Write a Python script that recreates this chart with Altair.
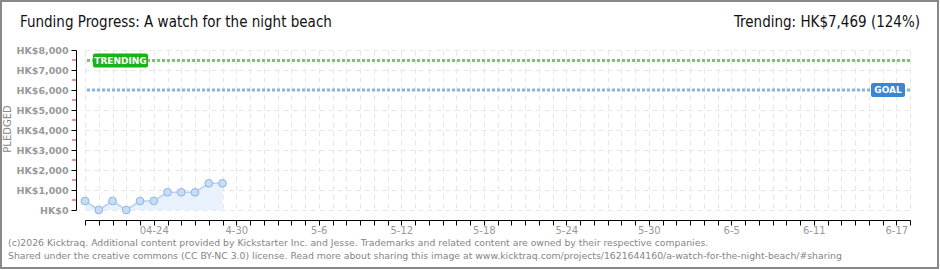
import altair as alt
import pandas as pd

# ---- data ----
dates = ["2026-04-19", "2026-04-20", "2026-04-21", "2026-04-22", "2026-04-23",
         "2026-04-24", "2026-04-25", "2026-04-26", "2026-04-27", "2026-04-28",
         "2026-04-29"]
pledged = [450, 0, 450, 0, 450, 450, 885, 885, 885, 1335, 1335]
goal = 6000
trending = 7469
y_ticks = [0, 1000, 2000, 3000, 4000, 5000, 6000, 7000, 8000]
minor_ticks = [500, 1500, 2500, 3500, 4500, 5500, 6500, 7500]
x_start = "2026-04-19"
x_end = "2026-06-18"
first_label = "2026-04-24"

title_text = "Funding Progress: A watch for the night beach"
trend_text = "Trending:  HK$7,469 (124%)"
footer1 = ("(c)2026 Kicktraq. Additional content provided by Kickstarter Inc. and Jesse. "
           "Trademarks and related content are owned by their respective companies.")
footer2 = ("Shared under the creative commons (CC BY-NC 3.0) license. Read more about sharing "
           "this image at www.kicktraq.com/projects/1621644160/a-watch-for-the-night-beach/#sharing")

df = pd.DataFrame({"date": dates, "pledged": pledged})

day_ms = 86400000
t_start = int(pd.Timestamp(x_start, tz="UTC").timestamp() * 1000)
t_end = int(pd.Timestamp(x_end, tz="UTC").timestamp() * 1000)
t0 = int(pd.Timestamp(first_label, tz="UTC").timestamp() * 1000)
day_ticks = list(range(t_start, t_end + 1, day_ms))

W, H = 825, 160
PL, PT = 85, 50
TITLE_FONT = "'DejaVu Sans Condensed', 'Roboto Condensed', Roboto, sans-serif"

label_expr_x = (
    f"(+datum.value >= {t0} && round((+datum.value - {t0}) / {day_ms}) % 6 == 0) ? "
    f"(round(+datum.value) == {t0} ? '04-24' : (utcmonth(datum.value) + 1) + '-' + utcdate(datum.value)) : ''"
)

x_axis = alt.Axis(
    values=day_ticks, labelExpr=label_expr_x, offset=10, tickSize=5,
    tickColor="black", domainColor="black", labelColor="#999999",
    labelFont="DejaVu Sans", labelFontSize=10, labelPadding=0,
    labelOverlap=False, labelFlush=False, grid=True, gridColor="#e6e6e6",
    gridDash=[5, 4], title=None,
)
y_axis = alt.Axis(
    values=y_ticks, labelExpr="'HK$' + format(datum.value, ',')", offset=9,
    tickSize=5, tickColor="black", domainColor="black", labelColor="#999999",
    labelFont="DejaVu Sans", labelFontSize=9.5, labelFontWeight="bold",
    labelOverlap=False, labelPadding=3, grid=True, gridColor="#e6e6e6",
    gridDash=[5, 4], title=None,
)
x_scale = alt.Scale(type="utc", domain=[t_start, t_end])
y_scale = alt.Scale(domain=[0, 8000], nice=False)

x_enc = alt.X("date:T", scale=x_scale, axis=x_axis)
y_enc = alt.Y("pledged:Q", scale=y_scale, axis=y_axis)

base = alt.Chart(df)
area = base.mark_area(color="#e8f1fc", opacity=1).encode(x=x_enc, y=y_enc)
line = base.mark_line(color="#b7d3f1", strokeWidth=1.5).encode(x=x_enc, y=y_enc)
points = base.mark_circle(size=60, color="#c6ddf6", stroke="#8db5e2",
                          strokeWidth=1, opacity=1).encode(x=x_enc, y=y_enc)

one = pd.DataFrame({"k": [0]})


def ydat(v):
    return alt.YDatum(v, type="quantitative", scale=y_scale, axis=y_axis)


goal_rule = alt.Chart(one).mark_rule(color="#8ab3e2", strokeWidth=3, strokeDash=[3, 2]).encode(
    y=ydat(goal))
trend_rule = alt.Chart(one).mark_rule(color="#72cc5e", strokeWidth=3, strokeDash=[3, 2]).encode(
    y=ydat(trending))

trend_box = alt.Chart(one).mark_rect(width=55, height=14, cornerRadius=2, color="#17b317").encode(
    x=alt.value(120.5 - PL), y=ydat(trending))
trend_lbl = alt.Chart(one).mark_text(text="TRENDING", color="white", font="DejaVu Sans",
                                     fontWeight="bold", fontSize=9, baseline="middle").encode(
    x=alt.value(120.5 - PL), y=ydat(trending))
goal_box = alt.Chart(one).mark_rect(width=34, height=14, cornerRadius=2, color="#3a85d5").encode(
    x=alt.value(888 - PL), y=ydat(goal))
goal_lbl = alt.Chart(one).mark_text(text="GOAL", color="white", font="DejaVu Sans",
                                    fontWeight="bold", fontSize=9, baseline="middle").encode(
    x=alt.value(888 - PL), y=ydat(goal))

minor = alt.Chart(pd.DataFrame({"v": minor_ticks})).mark_rule(color="#e02020", strokeWidth=1).encode(
    y=alt.Y("v:Q", scale=y_scale, axis=y_axis), x=alt.value(-13), x2=alt.value(-9))


def txt(text, x, y, **kw):
    return alt.Chart(one).mark_text(text=text, **kw).encode(
        x=alt.value(x - PL), y=alt.value(y - PT))


title = txt(title_text, 20, 27, align="left", baseline="alphabetic",
            font=TITLE_FONT, fontSize=15, color="#111111")
trend_t = txt(trend_text, 920, 27, align="right", baseline="alphabetic",
              font=TITLE_FONT, fontSize=15, color="#111111")
f1 = txt(footer1, 8, 246, align="left", baseline="alphabetic",
         font="DejaVu Sans", fontSize=9.3, color="#858585")
f2 = txt(footer2, 8, 259, align="left", baseline="alphabetic",
         font="DejaVu Sans", fontSize=9.3, color="#858585")
pledged_t = alt.Chart(one).mark_text(text="PLEDGED", angle=270, align="center", baseline="middle",
                                     font="DejaVu Sans", fontSize=10, color="#888888").encode(
    x=alt.value(8 - PL), y=alt.value(129 - PT))

border = alt.Chart(one).mark_rect(filled=False, stroke="#888888", strokeWidth=2).encode(
    x=alt.value(1 - PL), x2=alt.value(938 - PL), y=alt.value(1 - PT), y2=alt.value(268 - PT))

chart = alt.layer(
    area, line, points, goal_rule, trend_rule, trend_box, trend_lbl, goal_box, goal_lbl,
    minor, title, trend_t, f1, f2, pledged_t, border
).properties(
    width=W, height=H,
    padding={"left": PL, "top": PT, "right": 940 - PL - W, "bottom": 270 - PT - H},
    autosize=alt.AutoSizeParams(type="none"),
    background="white",
).configure_view(stroke=None)

chart.save("out.html", embed_options={"renderer": "svg", "actions": False})
